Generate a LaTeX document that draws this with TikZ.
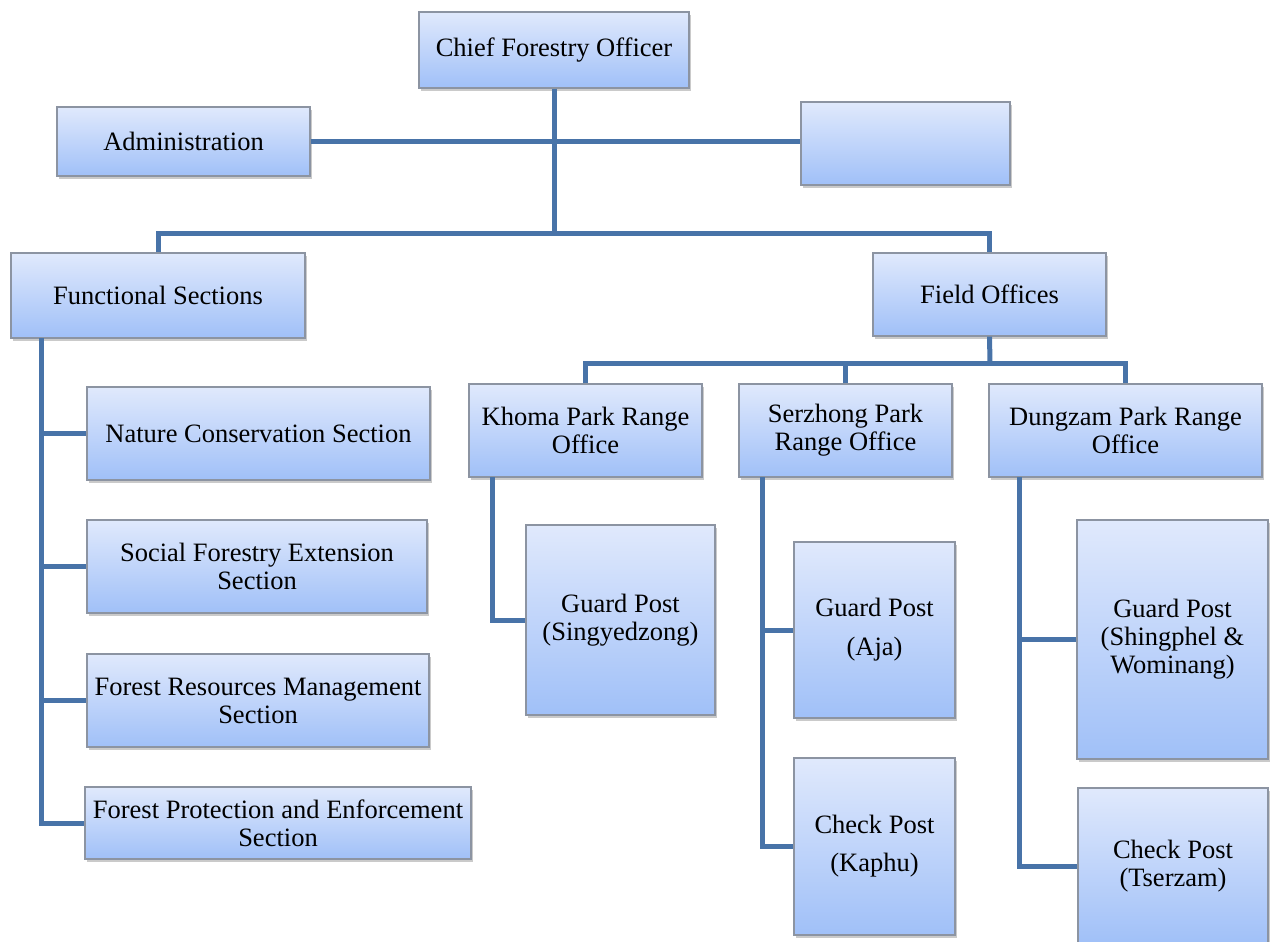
\documentclass[tikz,border=0pt]{standalone}
\usepackage{fontspec}
\setmainfont{Liberation Serif}
\newfontfamily\orgfont{Liberation Serif}
\usetikzlibrary{shadows}
\definecolor{boxtop}{RGB}{224,233,252}
\definecolor{boxbot}{RGB}{160,192,248}
\definecolor{boxline}{RGB}{140,148,162}
\definecolor{connline}{RGB}{72,115,168}
\tikzset{
  orgbox/.style={draw=boxline, line width=1.2pt, top color=boxtop, bottom color=boxbot,
    inner sep=0pt, align=center, anchor=center,
    font=\orgfont\fontsize{26.5}{28}\selectfont,
    drop shadow={opacity=0.35, shadow xshift=1.5pt, shadow yshift=-3pt, fill=black!60}},
  conn/.style={draw=connline, line width=5pt},
}
\newcommand{\orgnode}[6]{% name, x1, y1, x2, y2, text
  \pgfmathsetmacro{\cxx}{(#2+#4)/2}\pgfmathsetmacro{\cyy}{(#3+#5)/2}
  \pgfmathsetmacro{\www}{#4-#2}\pgfmathsetmacro{\hhh}{#5-#3}
  \node[orgbox, minimum width=\www pt, minimum height=\hhh pt] (#1) at (\cxx,\cyy) {#6};}
\begin{document}
\begin{tikzpicture}[x=1pt,y=-1pt]
\useasboundingbox (0,0) rectangle (1272,942);
\clip (0,0) rectangle (1272,942);
\coordinate (b1) at (554,233);
\coordinate (b2) at (990,363);
\coordinate (fs) at (41,338);
\coordinate (ks) at (492,477);
\coordinate (ss) at (762,477);
\coordinate (ds) at (1019,477);
% boxes
\orgnode{chief}{419}{12}{689}{88}{Chief Forestry Officer}
\orgnode{admin}{57}{107}{310}{176}{Administration}
\orgnode{blank}{801}{102}{1010}{185}{}
\orgnode{func}{11}{253}{305}{338}{Functional Sections}
\orgnode{field}{873}{253}{1106}{336}{Field Offices}
\orgnode{nature}{87}{387}{430}{480}{Nature Conservation Section}
\orgnode{social}{87}{520}{427}{613}{Social Forestry Extension\\Section}
\orgnode{forres}{87}{654}{429}{747}{Forest Resources Management\\Section}
\orgnode{forprot}{85}{787}{471}{859}{Forest Protection and Enforcement\\Section}
\orgnode{khoma}{469}{384}{702}{477}{Khoma Park Range\\Office}
\orgnode{serz}{739}{384}{952}{477}{Serzhong Park\\Range Office}
\orgnode{dung}{989}{384}{1262}{477}{Dungzam Park Range\\Office}
\orgnode{gp1}{526}{525}{715}{715}{Guard Post\\(Singyedzong)}
\orgnode{gp2}{794}{542}{955}{718}{Guard Post\\[11pt](Aja)}
\orgnode{cp2}{794}{758}{955}{935}{Check Post\\[10pt](Kaphu)}
\orgnode{gp3}{1077}{520}{1268}{759}{Guard Post\\(Shingphel \&\\Wominang)}
\orgnode{cp3}{1078}{788}{1268}{944}{Check Post\\(Tserzam)}
% connectors
\draw[conn] (admin.east) -- (admin.east -| blank.west);
\draw[conn] (chief.south) -- (b1);
\draw[conn] (func.north) |- (b1) -| (field.north);
\draw[conn] (fs) |- (nature.west);
\draw[conn] (fs) |- (social.west);
\draw[conn] (fs) |- (forres.west);
\draw[conn] (fs) |- (forprot.west);
\draw[conn] (field.south) -- (b2);
\draw[conn] (khoma.north) |- (b2) -| (dung.north);
\draw[conn] (serz.north) -- (serz.north |- b2);
\draw[conn] (ks) |- (gp1.west);
\draw[conn] (ss) |- (gp2.west);
\draw[conn] (ss) |- (cp2.west);
\draw[conn] (ds) |- (gp3.west);
\draw[conn] (ds) |- (cp3.west);
\end{tikzpicture}
\end{document}
